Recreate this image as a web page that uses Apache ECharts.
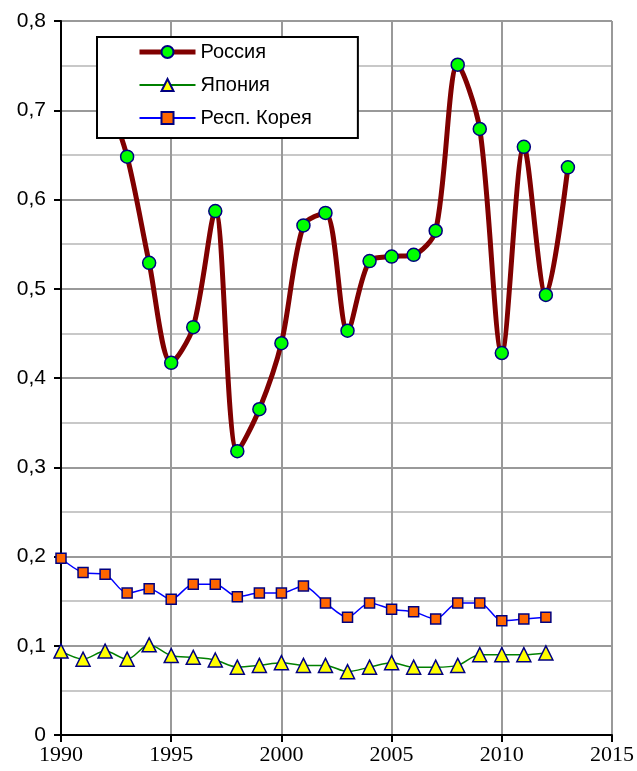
<!DOCTYPE html>
<html><head><meta charset="utf-8">
<script src="https://cdn.jsdelivr.net/npm/echarts@6/dist/echarts.min.js"></script>
<style>html,body{margin:0;padding:0;background:#fff}#c{width:637px;height:771px}</style>
</head><body><div id="c"></div>
<script>
const yearsRussia = [1992,1993,1994,1995,1996,1997,1998,1999,2000,2001,2002,2003,2004,2005,2006,2007,2008,2009,2010,2011,2012,2013];
const russia = [0.72,0.648,0.529,0.417,0.457,0.587,0.318,0.365,0.439,0.571,0.585,0.453,0.531,0.536,0.538,0.565,0.751,0.679,0.428,0.659,0.493,0.636];
const yearsOther = [1990,1991,1992,1993,1994,1995,1996,1997,1998,1999,2000,2001,2002,2003,2004,2005,2006,2007,2008,2009,2010,2011,2012];
const japan = [0.094,0.085,0.094,0.085,0.101,0.089,0.087,0.084,0.076,0.078,0.081,0.078,0.078,0.071,0.076,0.081,0.076,0.076,0.078,0.090,0.090,0.090,0.092];
const korea = [0.198,0.182,0.180,0.159,0.164,0.152,0.169,0.169,0.155,0.159,0.159,0.167,0.148,0.132,0.148,0.141,0.138,0.130,0.148,0.148,0.128,0.130,0.132];
const names = ['Россия','Япония','Респ. Корея'];

const pair = (xs, ys) => xs.map((x,i)=>[x, ys[i]]);
const chart = echarts.init(document.getElementById('c'));
chart.setOption({
  animation:false,
  backgroundColor:'#fff',
  grid:{left:61,right:25,top:21,bottom:36,containLabel:false},
  xAxis:{type:'value',min:1990,max:2015,interval:5,
    axisLine:{show:true,onZero:false,lineStyle:{color:'#000',width:2}},
    axisTick:{show:true,inside:false,length:7,lineStyle:{color:'#000',width:2}},
    axisLabel:{color:'#000',fontFamily:'Liberation Serif',fontSize:22,margin:9,formatter:v=>String(v)},
    splitLine:{show:true,lineStyle:{color:'#999',width:2}}},
  yAxis:{type:'value',min:0,max:0.8,interval:0.1,
    axisLine:{show:true,onZero:false,lineStyle:{color:'#000',width:2}},
    axisTick:{show:true,inside:false,length:7,lineStyle:{color:'#000',width:2}},
    axisLabel:{color:'#000',fontFamily:'Liberation Sans',fontSize:21,margin:15,
      formatter:v=>v===0?'0':v.toFixed(1).replace('.',',')},
    splitLine:{show:true,lineStyle:{color:'#999',width:2}},
    minorTick:{show:false,splitNumber:2},
    minorSplitLine:{show:true,lineStyle:{color:'#c8c8c8',width:2}}},
  legend:{left:97,top:37,orient:'vertical',backgroundColor:'#fff',borderColor:'#000',borderWidth:2,
    padding:[5,46,10,40],itemWidth:56,itemHeight:15,itemGap:13,
    textStyle:{color:'#000',fontFamily:'Liberation Sans',fontSize:20},
    data:[
      {name:names[0],lineStyle:{color:'#800000',width:5}},
      {name:names[1],lineStyle:{color:'#008000',width:2}},
      {name:names[2],lineStyle:{color:'#0000ff',width:2}}
    ]},
  series:[
    {name:names[0],type:'line',smooth:0.3,data:pair(yearsRussia,russia),
     lineStyle:{color:'#800000',width:5},itemStyle:{color:'#00ff00',borderColor:'#000080',borderWidth:1.5},
     symbol:'circle',symbolSize:13,z:3},
    {name:names[1],type:'line',smooth:0.3,data:pair(yearsOther,japan),
     lineStyle:{color:'#008000',width:1.5},itemStyle:{color:'#ffff00',borderColor:'#000080',borderWidth:1.5},
     symbol:'triangle',symbolSize:14,z:2},
    {name:names[2],type:'line',smooth:0.3,data:pair(yearsOther,korea),
     lineStyle:{color:'#0000ff',width:1.5},itemStyle:{color:'#ff6600',borderColor:'#000080',borderWidth:1.5},
     symbol:'rect',symbolSize:10,z:2}
  ]
});
</script></body></html>
